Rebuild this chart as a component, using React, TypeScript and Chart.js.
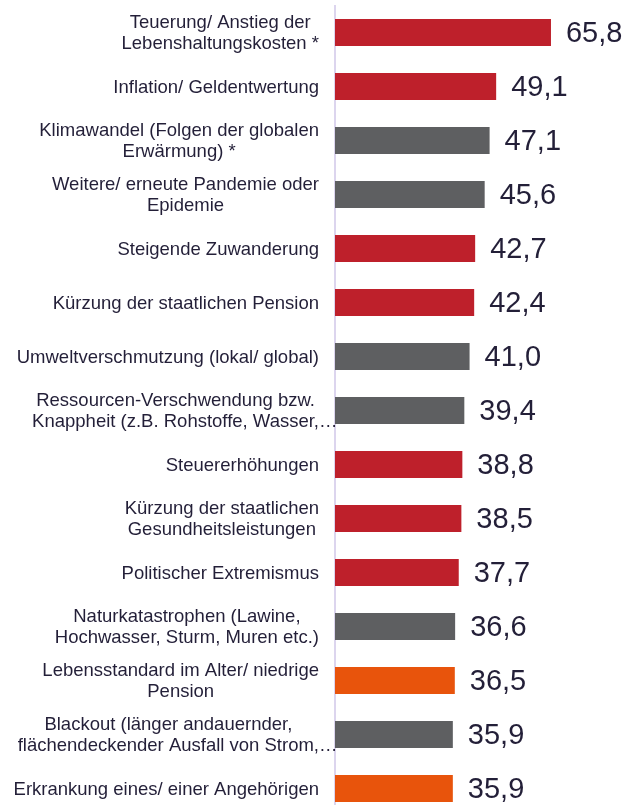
import React, { useEffect, useRef } from "react";
import { Chart, registerables } from "chart.js";

Chart.register(...registerables);

const categories: string[][] = [
  ["Teuerung/ Anstieg der", "Lebenshaltungskosten *"],
  ["Inflation/ Geldentwertung"],
  ["Klimawandel (Folgen der globalen", "Erwärmung) *"],
  ["Weitere/ erneute Pandemie oder", "Epidemie"],
  ["Steigende Zuwanderung"],
  ["Kürzung der staatlichen Pension"],
  ["Umweltverschmutzung (lokal/ global)"],
  ["Ressourcen-Verschwendung bzw.", "Knappheit (z.B. Rohstoffe, Wasser,…"],
  ["Steuererhöhungen"],
  ["Kürzung der staatlichen", "Gesundheitsleistungen"],
  ["Politischer Extremismus"],
  ["Naturkatastrophen (Lawine,", "Hochwasser, Sturm, Muren etc.)"],
  ["Lebensstandard im Alter/ niedrige", "Pension"],
  ["Blackout (länger andauernder,", "flächendeckender Ausfall von Strom,…"],
  ["Erkrankung eines/ einer Angehörigen"],
];

const values: number[] = [65.8, 49.1, 47.1, 45.6, 42.7, 42.4, 41.0, 39.4, 38.8, 38.5, 37.7, 36.6, 36.5, 35.9, 35.9];

// group: r = red (economic), g = grey (environment/health), o = orange (personal)
const groups: string[] = ["r", "r", "g", "g", "r", "r", "g", "g", "r", "r", "r", "g", "o", "g", "o"];

const groupColors: Record<string, string> = {
  r: "#be202b",
  g: "#5e5f61",
  o: "#e8540c",
};

const FONT = "'Liberation Sans', Arial, sans-serif";
const LABEL_SIZE = 18.5;
const LINE_H = 21.5;
const VALUE_SIZE = 29;
const TEXT_COLOR = "#231f38";
const LABEL_RIGHT_GAP = 16;

const labelPlugin = {
  id: "customLabels",
  afterDraw(chart: any) {
    const ctx = chart.ctx;
    const yScale = chart.scales.y;
    const left = chart.chartArea.left;
    ctx.save();
    ctx.font = `${LABEL_SIZE}px ${FONT}`;
    ctx.fillStyle = TEXT_COLOR;
    ctx.textBaseline = "middle";
    ctx.textAlign = "center";
    categories.forEach((lines, i) => {
      const yc = yScale.getPixelForValue(i) + 1;
      const widths = lines.map((l) => ctx.measureText(l.replace(/…$/, "")).width);
      const maxW = Math.max(...widths);
      const right = left - LABEL_RIGHT_GAP;
      const cx = right - maxW / 2;
      const n = lines.length;
      lines.forEach((l, k) => {
        const y = yc + (k - (n - 1) / 2) * LINE_H;
        const base = l.replace(/…$/, "");
        const w = ctx.measureText(base).width;
        ctx.textAlign = "left";
        ctx.fillText(l, cx - w / 2, y);
      });
    });
    // value labels
    const meta = chart.getDatasetMeta(0);
    ctx.font = `${VALUE_SIZE}px ${FONT}`;
    ctx.textAlign = "left";
    meta.data.forEach((bar: any, i: number) => {
      ctx.fillText(values[i].toFixed(1).replace(".", ","), bar.x + 15, bar.y + 1);
    });
    ctx.restore();
  },
};

export default function App() {
  const ref = useRef<HTMLCanvasElement | null>(null);
  useEffect(() => {
    if (!ref.current) return;
    const chart = new Chart(ref.current, {
      type: "bar",
      data: {
        labels: categories.map((c) => c.join(" ")),
        datasets: [
          {
            data: values,
            backgroundColor: groups.map((g) => groupColors[g]),
            barPercentage: 0.5,
            categoryPercentage: 1,
          },
        ],
      },
      options: {
        indexAxis: "y",
        responsive: false,
        animation: false,
        layout: { padding: { top: 5.5, bottom: 0.5, left: 0, right: 9 } },
        plugins: { legend: { display: false }, tooltip: { enabled: false } },
        scales: {
          x: { display: false, min: 0, max: 85 },
          y: {
            display: true,
            grid: { display: false, drawTicks: false },
            border: { display: true, color: "#dcd5ee", width: 2 },
            ticks: { display: false },
            afterFit: (s: any) => {
              s.width = 335;
            },
          },
        },
      },
      plugins: [labelPlugin],
    });
    return () => chart.destroy();
  }, []);
  return (
    <div style={{ position: "fixed", left: 0, top: 0, width: 623, height: 805, overflow: "hidden", background: "#fff" }}>
      <canvas ref={ref} width={623} height={816} style={{ display: "block" }} />
    </div>
  );
}
